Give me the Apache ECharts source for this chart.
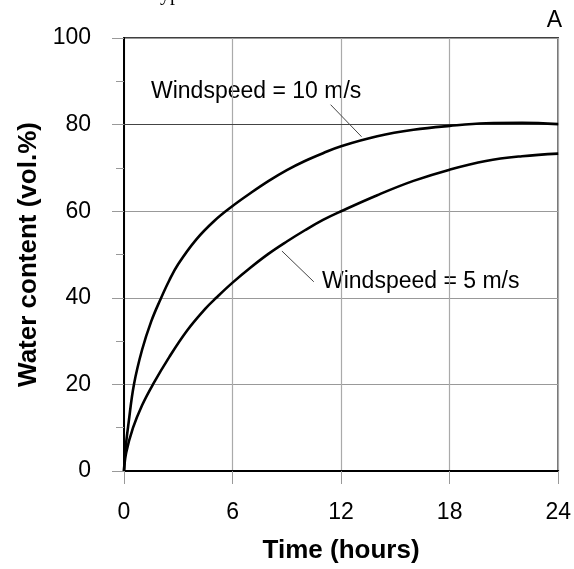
<!DOCTYPE html>
<html>
<head>
<meta charset="utf-8">
<script src="https://cdn.jsdelivr.net/npm/echarts@6/dist/echarts.min.js"></script>
<style>html,body{margin:0;padding:0;background:#fff}#c{width:574px;height:569px}</style>
</head>
<body>
<div id="c"></div>
<script>
var time10 = [0, 0.08, 0.25, 0.55, 1, 1.5, 2, 2.5, 3, 4, 5, 6, 7, 8, 9, 10, 11, 12, 14, 16, 18, 20, 22, 24];
var water10 = [0, 5, 11, 20, 28, 34.5, 39.5, 44, 47.8, 53.5, 57.8, 61.2, 64.2, 67, 69.5, 71.6, 73.4, 75, 77.3, 78.8, 79.7, 80.3, 80.4, 80.1];
var time5 = [0, 0.12, 0.5, 1, 1.6, 2.5, 3.5, 4.5, 5.1, 6, 7, 8, 9, 10, 11, 12, 14, 16, 18, 20, 22, 24];
var water5 = [0, 4.2, 10, 15.2, 20, 26.3, 32.5, 37.5, 40, 43.5, 47, 50.2, 53, 55.6, 58, 60, 63.7, 67, 69.6, 71.6, 72.7, 73.3];
var label10 = 'Windspeed = 10 m/s';
var label5 = 'Windspeed = 5 m/s';
var leader10 = [[11.42, 84.6], [13.13, 77.2]];
var leader5 = [[8.73, 50.8], [10.49, 43.7]];
var refLineY = 80;
var panelLetter = 'A';

var chart = echarts.init(document.getElementById('c'));
function pairs(xs, ys) { return xs.map(function (x, i) { return [x, ys[i]]; }); }
var FONT = '"Liberation Sans", Arial, Helvetica, sans-serif';
chart.setOption({
  animation: false,
  backgroundColor: '#fff',
  grid: { left: 124, right: 13, top: 38, bottom: 96, show: true, borderColor: '#000', borderWidth: 1.5, backgroundColor: 'transparent' },
  xAxis: {
    type: 'value', min: 0, max: 24, interval: 6,
    name: 'Time (hours)', nameLocation: 'middle', nameGap: 67,
    nameTextStyle: { fontFamily: FONT, fontWeight: 'bold', fontSize: 26, color: '#000' },
    axisLine: { show: true, onZero: false, lineStyle: { color: '#000', width: 2 } },
    axisTick: { show: true, inside: false, length: 13, lineStyle: { color: '#999', width: 1 } },
    axisLabel: { margin: 30, fontFamily: FONT, fontSize: 23, color: '#000' },
    splitLine: { show: true, lineStyle: { color: '#aaa', width: 1.2 } }
  },
  yAxis: {
    type: 'value', min: 0, max: 100, interval: 20,
    name: 'Water content (vol.%)', nameLocation: 'middle', nameGap: 73, nameRotate: 90,
    nameTextStyle: { fontFamily: FONT, fontWeight: 'bold', fontSize: 26, color: '#000' },
    axisLine: { show: true, onZero: false, lineStyle: { color: '#000', width: 2 } },
    axisTick: { show: true, inside: false, length: 12, lineStyle: { color: '#999', width: 1 } },
    minorTick: { show: true, splitNumber: 2, length: 8, lineStyle: { color: '#999', width: 1 } },
    axisLabel: { margin: 33, fontFamily: FONT, fontSize: 23, color: '#000' },
    splitLine: { show: true, lineStyle: { color: '#999', width: 1 } }
  },
  series: [
    {
      type: 'line', data: pairs(time10, water10), smooth: 0.4, showSymbol: false,
      lineStyle: { color: '#000', width: 2.6 }, z: 5,
      markLine: {
        silent: true, symbol: 'none', animation: false,
        label: { show: false },
        data: [
          { yAxis: refLineY, lineStyle: { color: '#444', width: 1, type: 'solid' } },
          [{ coord: leader10[0] }, { coord: leader10[1] }],
          [{ coord: leader5[0] }, { coord: leader5[1] }]
        ],
        lineStyle: { color: '#444', width: 1, type: 'solid' }
      }
    },
    {
      type: 'line', data: pairs(time5, water5), smooth: 0.4, showSymbol: false,
      lineStyle: { color: '#000', width: 2.6 }, z: 5
    }
  ],
  graphic: [
    { type: 'text', left: 151, top: 80, style: { text: label10, font: '23px ' + FONT, fill: '#000' } },
    { type: 'text', left: 322, top: 270, style: { text: label5, font: '23px ' + FONT, fill: '#000' } },
    { type: 'text', right: 12, top: 9, style: { text: panelLetter, font: '23px ' + FONT, fill: '#000' } },
    { type: 'text', left: 160, top: -15, style: { text: 'yp', font: '20px "Liberation Serif", serif', fill: '#000' } }
  ]
});
</script>
</body>
</html>
